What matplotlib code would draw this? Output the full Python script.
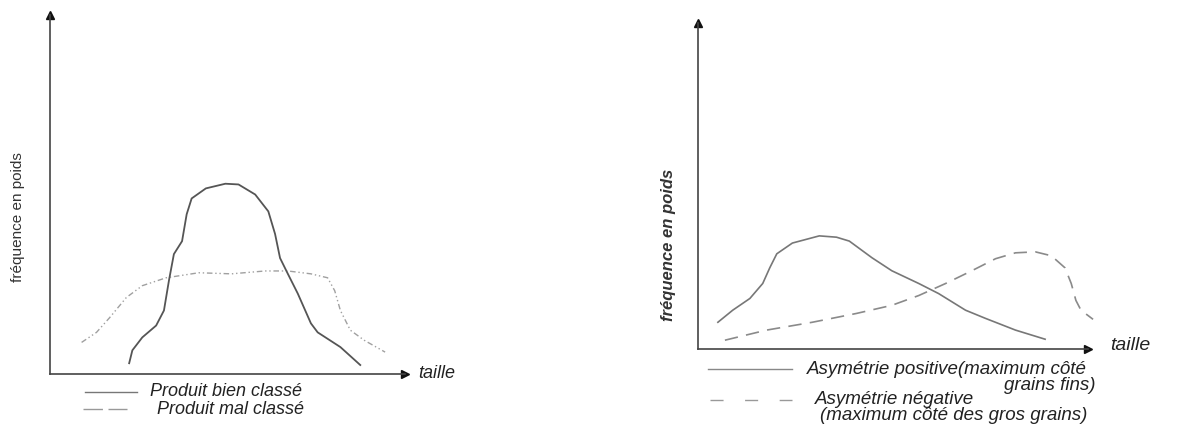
import matplotlib
matplotlib.use('Agg')
import matplotlib.pyplot as plt
from matplotlib.lines import Line2D

# --- données (taille 0..100, fréquence 0..100) ---
bien_taille = [22.3, 23.2, 26.0, 29.9, 32.1, 33.5, 34.9, 37.2, 38.5, 39.9, 43.9, 49.4,
               53.1, 57.8, 61.5, 63.4, 64.8, 67.0, 69.8, 73.5, 75.4, 81.8, 87.4]
bien_freq = [3.0, 6.6, 10.2, 13.5, 17.7, 26.0, 33.4, 37.0, 44.5, 48.9, 51.7, 53.0,
             52.8, 50.0, 45.3, 39.0, 32.3, 27.9, 22.4, 14.1, 11.6, 7.5, 2.5]

mal_taille = [8.9, 13.1, 16.8, 21.5, 26.0, 32.7, 41.9, 51.1, 60.6, 67.0, 73.5, 78.2,
              80.2, 81.8, 84.6, 88.5, 94.4]
mal_freq = [8.8, 11.6, 15.7, 21.3, 24.6, 26.8, 28.2, 27.9, 28.7, 28.7, 27.9, 26.8,
            23.2, 17.7, 12.2, 9.4, 6.1]

pos_taille = [5.1, 8.9, 13.3, 16.6, 18.4, 20.2, 24.2, 31.1, 35.5, 38.8, 44.6, 49.7,
              56.6, 61.7, 68.6, 73.7, 81.4, 89.0]
pos_freq = [8.2, 11.9, 15.5, 20.1, 24.9, 29.2, 32.5, 34.7, 34.3, 33.1, 28.0, 24.0,
            20.1, 17.0, 11.9, 9.4, 5.8, 3.0]

neg_taille = [6.9, 17.6, 29.3, 40.6, 49.7, 56.6, 63.5, 70.2, 76.3, 81.4, 86.5, 90.6,
              94.1, 95.7, 96.9, 98.2, 101.3]
neg_freq = [2.7, 5.8, 8.2, 10.9, 13.4, 16.4, 20.1, 24.0, 27.7, 29.5, 29.8, 28.6,
            24.9, 20.1, 14.9, 11.9, 9.1]

W, H = 1179, 430
FONT = ['Liberation Sans', 'DejaVu Sans']
AXC = '#444444'


def fx(px):
    return px / W


def fy(py):
    return 1 - py / H


def make_axes(fig, x0, x1, y_bot, y_top):
    ax = fig.add_axes([fx(x0), fy(y_bot), fx(x1 - x0), (y_bot - y_top) / H])
    ax.set_xlim(0, 100)
    ax.set_ylim(0, 100)
    ax.patch.set_alpha(0)
    for s in ('top', 'right'):
        ax.spines[s].set_visible(False)
    for s in ('left', 'bottom'):
        ax.spines[s].set_color(AXC)
        ax.spines[s].set_linewidth(1.2)
    ax.set_xticks([])
    ax.set_yticks([])
    # pointes de fleche
    ax.plot(1, 0, '>', color='#111111', ms=6, transform=ax.transAxes, clip_on=False)
    ax.plot(0, 1, '^', color='#111111', ms=6, transform=ax.transAxes, clip_on=False)
    return ax


def legend_line(fig, x0, x1, py, **kw):
    fig.add_artist(Line2D([fx(x0), fx(x1)], [fy(py), fy(py)],
                          transform=fig.transFigure, **kw))


def txt(fig, px, py, s, size, **kw):
    kw.setdefault('family', FONT)
    kw.setdefault('style', 'italic')
    fig.text(fx(px), fy(py), s, fontsize=size, color='#222222', va='center', **kw)


fig = plt.figure(figsize=(W / 100, H / 100), dpi=100)

# --- graphe de gauche ---
ax1 = make_axes(fig, 50, 405, 374, 15)
ax1.plot(mal_taille, mal_freq, color='#a0a0a0', lw=1.0,
         linestyle=(0, (4, 2, 1, 2, 1, 2)), clip_on=False)
ax1.plot(bien_taille, bien_freq, color='#555555', lw=1.3, clip_on=False,
         solid_joinstyle='round')

txt(fig, 418, 374, 'taille', 13)
txt(fig, 150, 392, 'Produit bien classé', 13)
txt(fig, 157, 409, 'Produit mal classé', 13)
fig.text(fx(18), fy(217), 'fréquence en poids', fontsize=11, family=FONT,
         rotation=90, ha='center', va='center', color='#333333')
legend_line(fig, 85, 137, 392, color='#777777', lw=1.0)
legend_line(fig, 83, 127, 409, color='#999999', lw=1.0, linestyle=(0, (14, 4)))

# --- graphe de droite ---
ax2 = make_axes(fig, 698, 1088, 349, 23)
ax2.plot(pos_taille, pos_freq, color='#777777', lw=1.2, clip_on=False,
         solid_joinstyle='round')
ax2.plot(neg_taille, neg_freq, color='#8a8a8a', lw=1.2,
         linestyle=(0, (8, 5)), clip_on=False)

txt(fig, 1110, 346, 'taille', 14)
txt(fig, 807, 369, 'Asymétrie positive(maximum côté', 13.5)
txt(fig, 1095, 385, 'grains fins)', 13.5, ha='right')
txt(fig, 815, 400, 'Asymétrie négative', 13.5)
txt(fig, 820, 415, '(maximum côté des gros grains)', 13.5)
fig.text(fx(668), fy(245), 'fréquence en poids', fontsize=12, family=FONT,
         style='italic', weight='bold', rotation=90, ha='center', va='center',
         color='#333333')
legend_line(fig, 708, 792, 369, color='#888888', lw=1.0)
legend_line(fig, 710, 792, 400, color='#999999', lw=1.0, linestyle=(0, (9.4, 15.5)))

fig.savefig('out.png', dpi=100)
plt.close(fig)
